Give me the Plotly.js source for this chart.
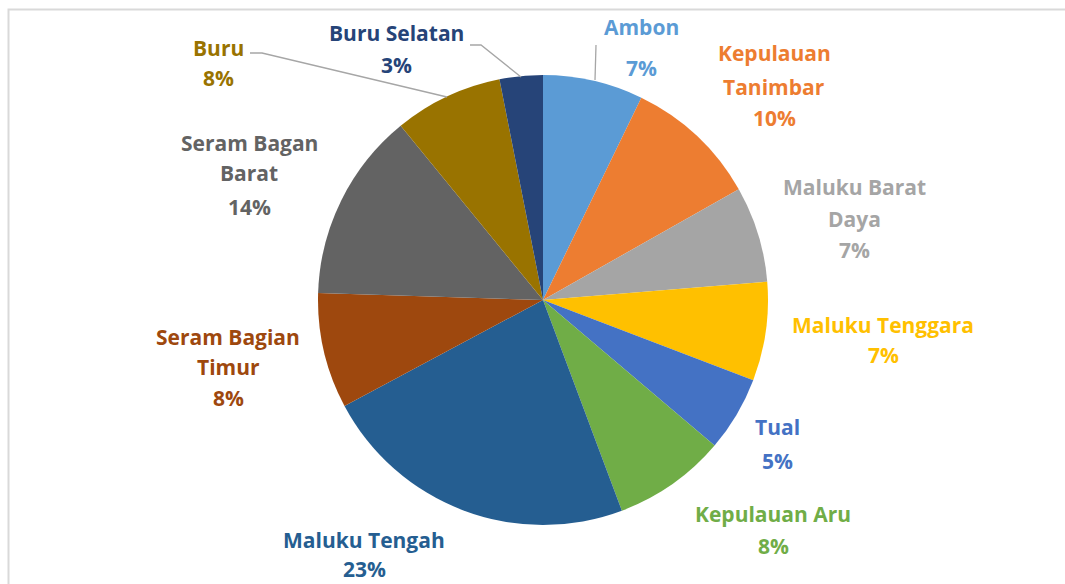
<!DOCTYPE html>
<html>
<head>
<meta charset="utf-8">
<script src="https://cdn.plot.ly/plotly-3.0.1.min.js"></script>
<style>html,body{margin:0;padding:0;background:#fff;}#chart{width:1065px;height:584px;}</style>
</head>
<body>
<div id="chart"></div>
<script>
// ---- data ----
const categories = ["Ambon", "Kepulauan Tanimbar", "Maluku Barat Daya", "Maluku Tenggara", "Tual",
  "Kepulauan Aru", "Maluku Tengah", "Seram Bagian Timur", "Seram Bagan Barat", "Buru", "Buru Selatan"];
const values = [7.2, 9.6, 6.9, 7.1, 5.4, 8.1, 22.9, 8.3, 13.6, 7.8, 3.1];
const colors = ["#5B9BD5", "#ED7D31", "#A5A5A5", "#FFC000", "#4472C4", "#70AD47",
  "#255E91", "#9E480E", "#636363", "#997300", "#264478"];

// ---- label layout (wrapping + pixel positions of each line centre) ----
const W = 1065, H = 584;
const wraps = [["Ambon"], ["Kepulauan", "Tanimbar"], ["Maluku Barat", "Daya"], ["Maluku Tenggara"], ["Tual"],
  ["Kepulauan Aru"], ["Maluku Tengah"], ["Seram Bagian", "Timur"], ["Seram Bagan", "Barat"], ["Buru"], ["Buru Selatan"]];
const labelPos = [
  {x: 641, ys: [27, 68]},
  {x: 774, ys: [53, 87, 118]},
  {x: 854, ys: [187, 219, 250]},
  {x: 883, ys: [325, 355]},
  {x: 777, ys: [427, 461]},
  {x: 773, ys: [514, 546]},
  {x: 364, ys: [540, 569]},
  {x: 228, ys: [337, 367, 398]},
  {x: 249, ys: [143, 173, 207]},
  {x: 218, ys: [48, 78]},
  {x: 396, ys: [33, 65]}
];
const leaders = [
  [[595, 80], [596, 45]],
  [[521, 77], [481, 45], [470, 45]],
  [[447, 97], [262, 53], [250, 53]]
];

const total = values.reduce((a, b) => a + b, 0);
const px = x => x / W, py = y => 1 - y / H;

const annotations = [];
categories.forEach((c, i) => {
  const lines = wraps[i].concat([Math.round(values[i] / total * 100) + "%"]);
  lines.forEach((t, j) => {
    annotations.push({
      xref: "paper", yref: "paper", x: px(labelPos[i].x), y: py(labelPos[i].ys[j]),
      xanchor: "center", yanchor: "middle", text: t, showarrow: false,
      font: {family: "'Open Sans', Lato, sans-serif", size: 21, color: colors[i], weight: "bold"}
    });
  });
});

const shapes = leaders.map(pts => ({
  type: "path", xref: "paper", yref: "paper",
  path: pts.map((p, k) => (k ? "L" : "M") + px(p[0]) + "," + py(p[1])).join(" "),
  line: {color: "#A6A6A6", width: 1.3}
}));
shapes.push({type: "rect", xref: "paper", yref: "paper",
  x0: px(8.5), x1: px(1100), y0: py(9.5), y1: py(640),
  line: {color: "#D9D9D9", width: 2}});

const cx = 543, cy = 300, r = 225;
const trace = {
  type: "pie", labels: categories, values: values, sort: false, direction: "clockwise", rotation: 0,
  marker: {colors: colors, line: {width: 0}},
  textinfo: "none", hoverinfo: "label+percent", showlegend: false,
  domain: {x: [px(cx - r), px(cx + r)], y: [py(cy + r), py(cy - r)]}
};

Plotly.newPlot("chart", [trace], {
  width: W, height: H, margin: {l: 0, r: 0, t: 0, b: 0},
  paper_bgcolor: "#fff", showlegend: false, annotations: annotations, shapes: shapes
}, {displayModeBar: false, staticPlot: true});
</script>
</body>
</html>
